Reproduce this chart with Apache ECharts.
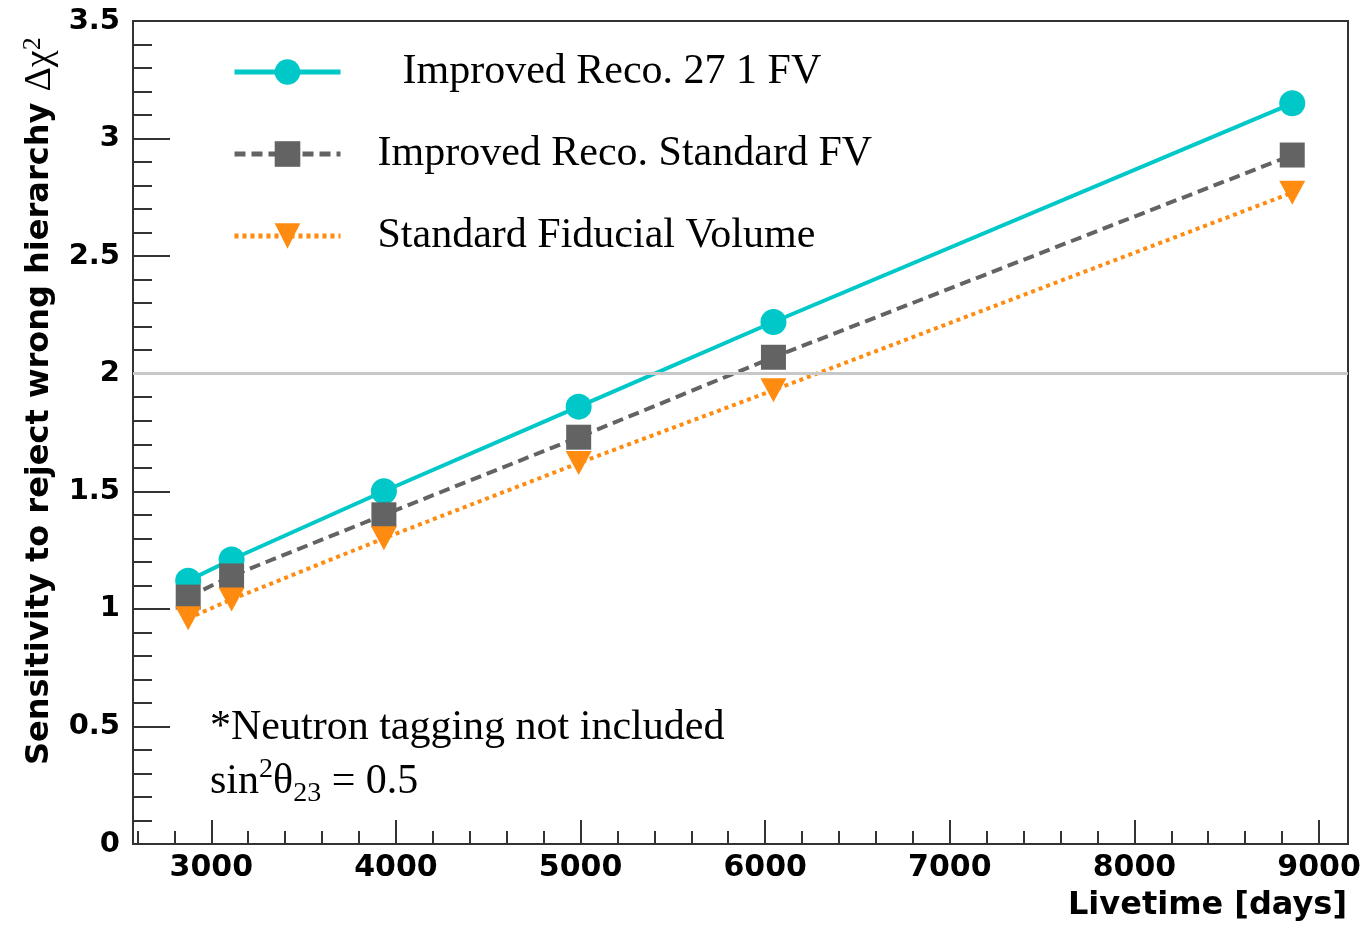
<!DOCTYPE html>
<html>
<head>
<meta charset="utf-8">
<script src="https://cdn.jsdelivr.net/npm/echarts@6/dist/echarts.min.js"></script>
<style>html,body{margin:0;padding:0;background:#fff;}#c{width:1365px;height:928px;}</style>
</head>
<body>
<div id="c"></div>
<script>
const livetime = [2875, 3110, 3935, 4990, 6045, 8855];
const improved27 = [1.12, 1.21, 1.50, 1.86, 2.22, 3.15];
const improvedStd = [1.05, 1.14, 1.40, 1.73, 2.07, 2.93];
const standardFV = [0.96, 1.04, 1.30, 1.62, 1.93, 2.77];
const seriesNames = ['Improved Reco. 27 1 FV', 'Improved Reco. Standard FV', 'Standard Fiducial Volume'];
const xMajorTicks = [3000, 4000, 5000, 6000, 7000, 8000, 9000];
const xMinorTicks = [2600, 2800, 3200, 3400, 3600, 3800, 4200, 4400, 4600, 4800, 5200, 5400, 5600, 5800, 6200, 6400, 6600, 6800, 7200, 7400, 7600, 7800, 8200, 8400, 8600, 8800];
const thresholdY = 2;

const chart = echarts.init(document.getElementById('c'), null, {renderer: 'canvas'});
const pair = (xs, ys) => xs.map((x, i) => [x, ys[i]]);
const axisColor = '#333';
const serif = '"Liberation Serif", "Times New Roman", serif';
const sansB = '"DejaVu Sans", sans-serif';

const option = {
  backgroundColor: '#fff',
  animation: false,
  grid: {left: 133, right: 17, top: 21, bottom: 84, show: true, borderColor: axisColor, borderWidth: 2, backgroundColor: 'transparent'},
  xAxis: [{
    type: 'value', min: 2576, max: 9157, position: 'bottom',
    axisLine: {show: true, lineStyle: {color: axisColor, width: 2}},
    axisTick: {show: true, inside: true, length: 24, customValues: xMajorTicks, lineStyle: {color: axisColor, width: 2}},
    axisLabel: {show: true, customValues: xMajorTicks, margin: 9, color: '#000', fontFamily: sansB, fontWeight: 'bold', fontSize: 30,
      formatter: function (v) { return String(v); }},
    splitLine: {show: false}
  }, {
    type: 'value', min: 2576, max: 9157, position: 'bottom',
    axisLine: {show: false},
    axisTick: {show: true, inside: true, length: 13, customValues: xMinorTicks, lineStyle: {color: axisColor, width: 2}},
    axisLabel: {show: false},
    splitLine: {show: false}
  }],
  yAxis: {
    type: 'value', min: 0, max: 3.5, interval: 0.5,
    axisLine: {show: true, lineStyle: {color: axisColor, width: 2}},
    axisTick: {show: true, inside: true, length: 37, lineStyle: {color: axisColor, width: 2}},
    minorTick: {show: true, splitNumber: 5, length: 19, lineStyle: {color: axisColor, width: 2}},
    axisLabel: {margin: 13, color: '#000', fontFamily: sansB, fontWeight: 'bold', fontSize: 29,
      formatter: function (v) { return String(v); }},
    splitLine: {show: false}
  },
  legend: {
    orient: 'vertical', left: 232, top: 51, padding: 0, itemWidth: 106, itemHeight: 32, itemGap: 40,
    data: seriesNames,
    lineStyle: {width: 5},
    formatter: function (name) { return name === seriesNames[0] ? '{a|' + name + '}' : '{b|' + name + '}'; },
    textStyle: {
      color: '#000', fontFamily: serif, fontSize: 42, lineHeight: 32,
      rich: {
        a: {fontFamily: serif, fontSize: 42, lineHeight: 32, color: '#000', padding: [0, 0, 0, 57]},
        b: {fontFamily: serif, fontSize: 42, lineHeight: 32, color: '#000', padding: [0, 0, 0, 32]}
      }
    }
  },
  series: [{
    name: seriesNames[0], type: 'line', data: pair(livetime, improved27),
    symbol: 'circle', symbolSize: 26,
    lineStyle: {color: '#00C8C8', width: 4},
    itemStyle: {color: '#00C8C8'},
    markLine: {silent: true, symbol: 'none', label: {show: false}, lineStyle: {color: '#c8c8c8', width: 3, type: 'solid'}, data: [{yAxis: thresholdY}]}
  }, {
    name: seriesNames[1], type: 'line', data: pair(livetime, improvedStd),
    symbol: 'rect', symbolSize: 25,
    lineStyle: {color: '#636363', width: 4, type: [11, 6]},
    itemStyle: {color: '#636363'}
  }, {
    name: seriesNames[2], type: 'line', data: pair(livetime, standardFV),
    symbol: 'triangle', symbolSize: [26, 24], symbolRotate: 180,
    lineStyle: {color: '#FF8C10', width: 4, type: [4, 4]},
    itemStyle: {color: '#FF8C10'}
  }],
  graphic: [{
    type: 'text', x: 40, y: 765, rotation: Math.PI / 2,
    style: {
      text: '{b|Sensitivity to reject wrong hierarchy }{g|Δχ}{s|2}',
      textAlign: 'left', textVerticalAlign: 'middle',
      rich: {
        b: {fontFamily: sansB, fontWeight: 'bold', fontSize: 32, lineHeight: 40, fill: '#000'},
        g: {fontFamily: serif, fontSize: 38, lineHeight: 40, fill: '#000'},
        s: {fontFamily: serif, fontSize: 26, lineHeight: 24, verticalAlign: 'top', fill: '#000'}
      }
    }
  }, {
    type: 'text', x: 1347, y: 906,
    style: {text: 'Livetime [days]', textAlign: 'right', textVerticalAlign: 'middle', fontFamily: sansB, fontWeight: 'bold', fontSize: 32, fill: '#000'}
  }, {
    type: 'text', x: 210, y: 728,
    style: {text: '*Neutron tagging not included', textAlign: 'left', textVerticalAlign: 'middle', fontFamily: serif, fontSize: 42, fill: '#000'}
  }, {
    type: 'text', x: 210, y: 782,
    style: {
      text: '{t|sin}{p|2}{t|θ}{q|23}{t| = 0.5}',
      textAlign: 'left', textVerticalAlign: 'middle',
      rich: {
        t: {fontFamily: serif, fontSize: 42, lineHeight: 52, fill: '#000'},
        p: {fontFamily: serif, fontSize: 28, lineHeight: 30, verticalAlign: 'top', fill: '#000'},
        q: {fontFamily: serif, fontSize: 28, lineHeight: 30, verticalAlign: 'bottom', fill: '#000'}
      }
    }
  }]
};
chart.setOption(option);
</script>
</body>
</html>
